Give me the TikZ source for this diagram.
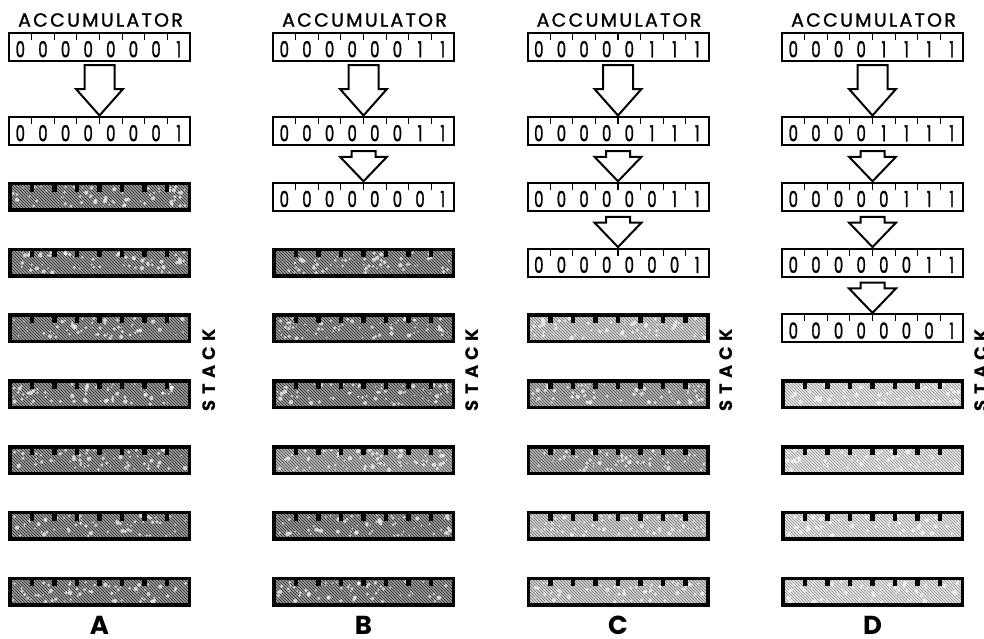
\documentclass[tikz,border=0pt]{standalone}
\usepackage{fontspec}
\usepackage{graphicx}
\setmainfont{Poppins}
\newfontfamily\spacedfont[LetterSpace=12,FakeBold=1.2]{Poppins}
\newfontfamily\digitfont[FakeBold=1.5]{Poppins}
\newfontfamily\stackfont[LetterSpace=30]{Poppins}
\usetikzlibrary{calc,patterns}

\newlength\cellw
\setlength\cellw{22.625pt}
\newcommand\dg[1]{\makebox[\cellw]{\scalebox{0.68}[1]{#1}}}
\newcommand\bits[8]{\dg{#1}\dg{#2}\dg{#3}\dg{#4}\dg{#5}\dg{#6}\dg{#7}\dg{#8}}

\colorlet{darkfill}{black!38}\colorlet{darkhatch}{black!85}
\colorlet{medfill}{black!28}\colorlet{medhatch}{black!72}
\colorlet{lightfill}{black!16}\colorlet{lighthatch}{black!58}
\colorlet{vlightfill}{black!9}\colorlet{vlighthatch}{black!45}

\tikzset{
  wregbox/.style={draw, line width=2pt, minimum width=181pt, minimum height=28pt,
    inner sep=0pt, outer sep=0pt, fill=white, text height=20.5pt, text depth=0pt,
    font=\fontsize{22}{22}\selectfont\digitfont},
  sregbox/.style={draw, line width=3.5pt, minimum width=179.5pt, minimum height=26.5pt,
    inner sep=0pt, outer sep=0pt},
  regtick/.style={line width=1.2pt},
  blockarrow/.style={draw, line width=2pt, fill=white, line join=miter},
  toplabel/.style={font=\fontsize{19}{19}\selectfont\spacedfont, inner sep=0pt},
  stacklabel/.style={font=\fontsize{18}{18}\selectfont\stackfont\bfseries, rotate=90, inner sep=0pt},
  collabel/.style={font=\fontsize{26}{26}\selectfont\bfseries, inner sep=0pt, anchor=base},
}

\newcommand\wreg[3]{%
  \node[wregbox] (#1) at (\cx,#2) {#3};
  \foreach \i in {1,...,7}{\draw[regtick] ($(#1.north west)!\i/8!(#1.north east)$) -- ++(0,7);}
}
\newcommand\sreg[4]{%
  \node[sregbox, fill=#3, postaction={pattern=north west lines, pattern color=#4}] (#1) at (\cx,#2) {};
  \foreach \k in {1,...,70}{\fill[white, opacity=0.7] ($(#1.north west)+(3+rnd*173.5,3+rnd*20.5)$) circle[radius=0.6+rnd*1.6];}
  \draw[line width=3.5pt] (#1.north west) rectangle (#1.south east);
  \foreach \i in {1,...,7}{\fill ($(#1.north west)!\i/8!(#1.north east)+(-2.2,0)$) rectangle ++(4.4,8);}
}
\newcommand\bigarrow[2]{%
  \draw[blockarrow] ($(#1.south)+(-15,4)$) -- ($(#2.north)+(-15,-28)$) -- ($(#2.north)+(-23.5,-28)$)
    -- ($(#2.north)+(0,-1.5)$) -- ($(#2.north)+(23.5,-28)$) -- ($(#2.north)+(15,-28)$)
    -- ($(#1.south)+(15,4)$) -- cycle;}
\newcommand\smallarrow[2]{%
  \draw[blockarrow] ($(#1.south)+(-12,6)$) -- ($(#2.north)+(-12,-26)$) -- ($(#2.north)+(-23.5,-26)$)
    -- ($(#2.north)+(0,-1.5)$) -- ($(#2.north)+(23.5,-26)$) -- ($(#2.north)+(12,-26)$)
    -- ($(#1.south)+(12,6)$) -- cycle;}

\begin{document}
\begin{tikzpicture}[x=1pt,y=-1pt]
\pgfmathsetseed{4242}
\useasboundingbox (0,0) rectangle (984,638);

% ---------------- Column A
\def\cx{99.5}
\node[toplabel] (Atop) at (\cx+1,20) {ACCUMULATOR};
\wreg{Aacc}{47}{\bits00000001}
\wreg{A1}{131}{\bits00000001}
\sreg{A2}{196.8}{darkfill}{darkhatch}
\sreg{A3}{262.6}{darkfill}{darkhatch}
\sreg{A4}{328.4}{darkfill}{darkhatch}
\sreg{A5}{394.2}{darkfill}{darkhatch}
\sreg{A6}{460}{darkfill}{darkhatch}
\sreg{A7}{525.8}{darkfill}{darkhatch}
\sreg{A8}{591.6}{darkfill}{darkhatch}
\bigarrow{Aacc}{A1}
\node[stacklabel] (Astack) at (209,370) {STACK};
\node[collabel] (Alab) at (\cx,634.5) {A};

% ---------------- Column B
\def\cx{363.5}
\node[toplabel] (Btop) at (\cx+1,20) {ACCUMULATOR};
\wreg{Bacc}{47}{\bits00000011}
\wreg{B1}{131}{\bits00000011}
\wreg{B2}{196.8}{\bits00000001}
\sreg{B3}{262.6}{darkfill}{darkhatch}
\sreg{B4}{328.4}{darkfill}{darkhatch}
\sreg{B5}{394.2}{darkfill}{darkhatch}
\sreg{B6}{460}{medfill}{medhatch}
\sreg{B7}{525.8}{darkfill}{darkhatch}
\sreg{B8}{591.6}{darkfill}{darkhatch}
\bigarrow{Bacc}{B1}
\smallarrow{B1}{B2}
\node[stacklabel] (Bstack) at (472,370) {STACK};
\node[collabel] (Blab) at (\cx,634.5) {B};

% ---------------- Column C
\def\cx{618}
\node[toplabel] (Ctop) at (\cx+1,20) {ACCUMULATOR};
\wreg{Cacc}{47}{\bits00000111}
\wreg{C1}{131}{\bits00000111}
\wreg{C2}{196.8}{\bits00000011}
\wreg{C3}{262.6}{\bits00000001}
\sreg{C4}{328.4}{lightfill}{lighthatch}
\sreg{C5}{394.2}{medfill}{medhatch}
\sreg{C6}{460}{medfill}{medhatch}
\sreg{C7}{525.8}{lightfill}{lighthatch}
\sreg{C8}{591.6}{lightfill}{lighthatch}
\bigarrow{Cacc}{C1}
\smallarrow{C1}{C2}
\smallarrow{C2}{C3}
\node[stacklabel] (Cstack) at (726,370) {STACK};
\node[collabel] (Clab) at (\cx,634.5) {C};

% ---------------- Column D
\def\cx{872.5}
\node[toplabel] (Dtop) at (\cx+1,20) {ACCUMULATOR};
\wreg{Dacc}{47}{\bits00001111}
\wreg{D1}{131}{\bits00001111}
\wreg{D2}{196.8}{\bits00000111}
\wreg{D3}{262.6}{\bits00000011}
\wreg{D4}{328.4}{\bits00000001}
\sreg{D5}{394.2}{vlightfill}{vlighthatch}
\sreg{D6}{460}{vlightfill}{vlighthatch}
\sreg{D7}{525.8}{vlightfill}{vlighthatch}
\sreg{D8}{591.6}{vlightfill}{vlighthatch}
\bigarrow{Dacc}{D1}
\smallarrow{D1}{D2}
\smallarrow{D2}{D3}
\smallarrow{D3}{D4}
\node[stacklabel] (Dstack) at (981,370) {STACK};
\node[collabel] (Dlab) at (\cx,634.5) {D};
\end{tikzpicture}
\end{document}
